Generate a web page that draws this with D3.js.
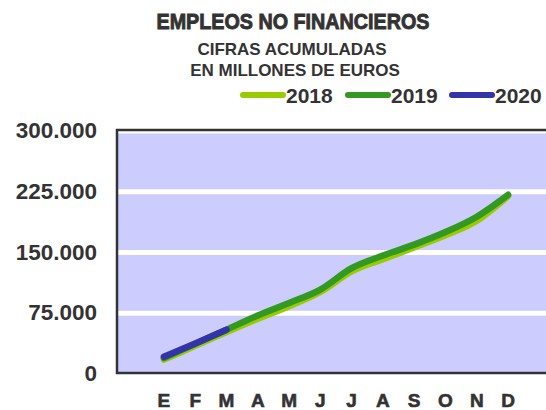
<!DOCTYPE html>
<html>
<head>
<meta charset="utf-8">
<script src="https://cdn.jsdelivr.net/npm/d3@7"></script>
<style>
  body { margin: 0; background: #fff; }
  svg text { font-family: "Liberation Sans", Arial, sans-serif; font-weight: bold; fill: #333; }
</style>
</head>
<body>
<svg id="chart" width="546" height="410"></svg>
<script>
const months = ['E', 'F', 'M', 'A', 'M', 'J', 'J', 'A', 'S', 'O', 'N', 'D'];
const yTicks = [0, 75000, 150000, 225000, 300000];
const seriesNames = ['2018', '2019', '2020'];
const values2018 = [16500, 33500, 50500, 67000, 82500, 100000, 125500, 140500, 155000, 170000, 188000, 218500];
const values2019 = [18500, 36000, 53500, 71000, 86500, 103000, 129500, 145000, 158500, 174000, 193000, 220000];
const values2020 = [20000, 36500, 53500];
const colors = { '2018': '#99cc00', '2019': '#339922', '2020': '#3333aa' };

const svg = d3.select('#chart');
const plot = { left: 117, top: 130, right: 555, bottom: 373 };

// scales
const x = d3.scalePoint()
  .domain(d3.range(months.length))
  .range([plot.left, plot.right])
  .padding(1.5);
const y = d3.scaleLinear()
  .domain([0, 300000])
  .range([plot.bottom, plot.top]);

// background
svg.append('rect')
  .attr('x', plot.left)
  .attr('y', plot.top)
  .attr('width', plot.right - plot.left)
  .attr('height', plot.bottom - plot.top)
  .attr('fill', '#ccccff');

// gridlines
svg.append('g')
  .selectAll('line')
  .data(yTicks.filter((d) => d > 0))
  .join('line')
  .attr('x1', plot.left)
  .attr('x2', plot.right)
  .attr('y1', (d) => y(d) + 1)
  .attr('y2', (d) => y(d) + 1)
  .attr('stroke', '#fff')
  .attr('stroke-width', 5);

// frame
svg.append('path')
  .attr('d', `M${plot.right},${plot.top}H${plot.left}V${plot.bottom}H${plot.right}`)
  .attr('fill', 'none')
  .attr('stroke', '#333')
  .attr('stroke-width', 2.5);

// y labels
const fmt = (d) => d3.format(',')(d).replace(/,/g, '.');
svg.append('g')
  .selectAll('text')
  .data(yTicks)
  .join('text')
  .attr('x', 97)
  .attr('y', (d) => y(d))
  .attr('dy', '0.36em')
  .attr('text-anchor', 'end')
  .style('font-size', '22.5px')
  .text(fmt);

// x labels
svg.append('g')
  .selectAll('text')
  .data(months)
  .join('text')
  .attr('x', (d, i) => x(i))
  .attr('y', 407)
  .attr('text-anchor', 'middle')
  .style('font-size', '19px')
  .style('stroke', '#333')
  .style('stroke-width', 0.6)
  .text((d) => d);

// lines
const line = d3.line()
  .x((d, i) => x(i))
  .y((d) => y(d))
  .curve(d3.curveMonotoneX);

[values2018, values2019, values2020].forEach((vals, k) => {
  svg.append('path')
    .datum(vals)
    .attr('d', line)
    .attr('fill', 'none')
    .attr('stroke', colors[seriesNames[k]])
    .attr('stroke-width', 6.5)
    .attr('stroke-linecap', 'round')
    .attr('stroke-linejoin', 'round');
});

// titles
svg.append('text')
  .attr('x', 293)
  .attr('y', 29)
  .attr('text-anchor', 'middle')
  .attr('textLength', 273)
  .attr('lengthAdjust', 'spacingAndGlyphs')
  .style('font-size', '22px')
  .style('stroke', '#333')
  .style('stroke-width', 0.9)
  .text('EMPLEOS NO FINANCIEROS');
svg.append('text')
  .attr('x', 292)
  .attr('y', 55)
  .attr('text-anchor', 'middle')
  .style('font-size', '17px')
  .text('CIFRAS ACUMULADAS');
svg.append('text')
  .attr('x', 295)
  .attr('y', 76)
  .attr('text-anchor', 'middle')
  .style('font-size', '17px')
  .text('EN MILLONES DE EUROS');

// legend
const legendX = [243, 348, 452];
const legend = svg.append('g')
  .selectAll('g')
  .data(seriesNames)
  .join('g')
  .attr('transform', (d, i) => `translate(${legendX[i]}, 95)`);
legend.append('line')
  .attr('x1', 0)
  .attr('x2', 40)
  .attr('stroke', (d) => colors[d])
  .attr('stroke-width', 6)
  .attr('stroke-linecap', 'round');
legend.append('text')
  .attr('x', 43)
  .attr('dy', '0.36em')
  .style('font-size', '21px')
  .text((d) => d);
</script>
</body>
</html>
